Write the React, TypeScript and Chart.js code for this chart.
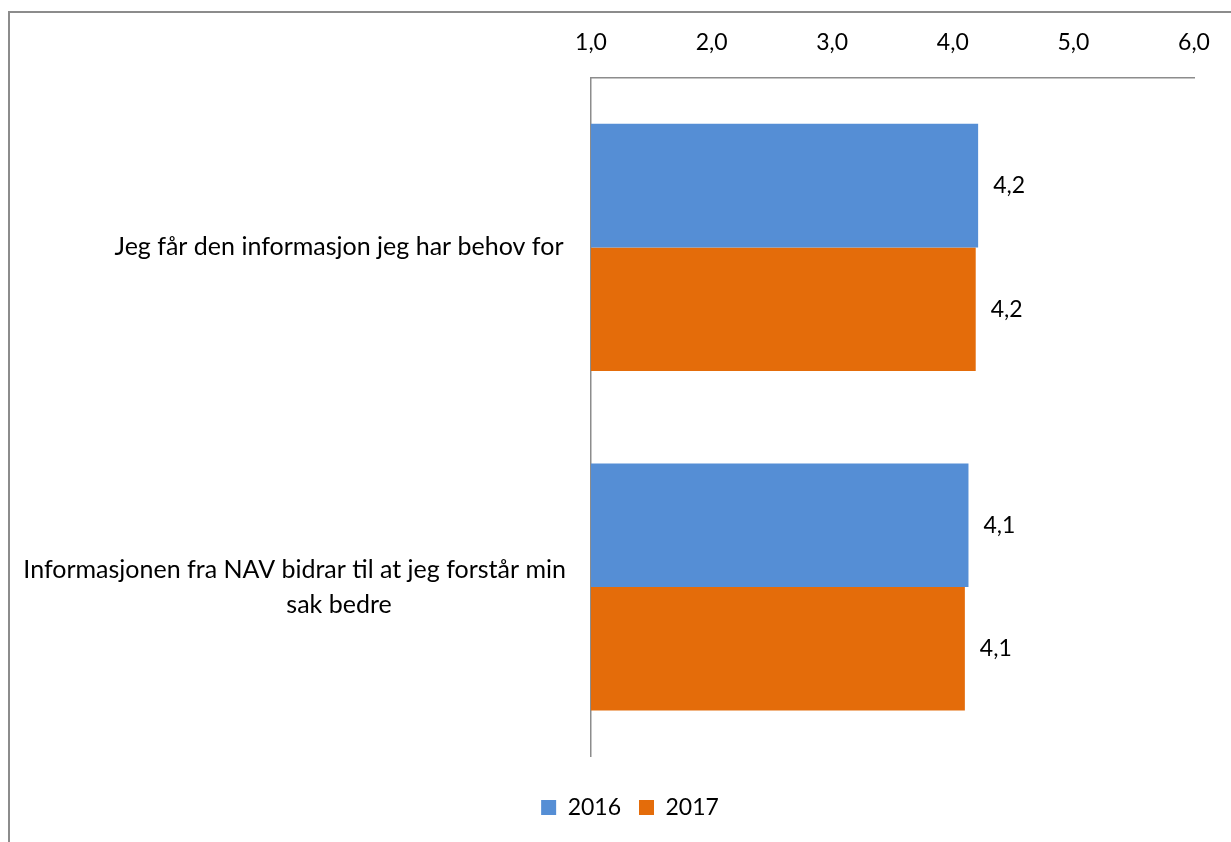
import React, { useEffect, useRef } from 'react';
import { Chart, registerables } from 'chart.js';

Chart.register(...registerables);

const categories: string[][] = [
  ['Jeg får den informasjon jeg har behov for'],
  ['Informasjonen fra NAV bidrar til at jeg forstår min', 'sak bedre'],
];
const seriesNames = ['2016', '2017'];
const values2016 = [4.21, 4.13];
const values2017 = [4.19, 4.1];
const xTickValues = [1, 2, 3, 4, 5, 6];
const colors = ['#558ED5', '#E46C0A'];

const FONT = 'Lato, "Open Sans", sans-serif';
const fmt = (v: number) => v.toFixed(1).replace('.', ',');

const valueLabels = {
  id: 'valueLabels',
  afterDatasetsDraw(chart: any) {
    const ctx = chart.ctx;
    ctx.save();
    ctx.font = `23px ${FONT}`;
    ctx.fillStyle = '#000';
    ctx.textAlign = 'left';
    ctx.textBaseline = 'middle';
    chart.data.datasets.forEach((ds: any, di: number) => {
      const meta = chart.getDatasetMeta(di);
      meta.data.forEach((el: any, i: number) => {
        ctx.fillText(fmt(ds.data[i]), el.x + 15, el.y);
      });
    });
    ctx.restore();
  },
};

// Category labels: centred in a text box left of the axis; lines too wide for it are right-aligned.
const categoryLabels = {
  id: 'categoryLabels',
  afterDraw(chart: any) {
    const ctx = chart.ctx;
    const yScale = chart.scales.y;
    const right = chart.chartArea.left - 25;
    const center = chart.chartArea.left - 252;
    const lineH = 35;
    ctx.save();
    ctx.font = `25px ${FONT}`;
    ctx.fillStyle = '#000';
    ctx.textAlign = 'center';
    ctx.textBaseline = 'middle';
    categories.forEach((lines, i) => {
      const yc = yScale.getPixelForValue(i);
      lines.forEach((line, li) => {
        const w = ctx.measureText(line).width;
        const x = Math.min(center, right - w / 2);
        const y = yc + (li - (lines.length - 1) / 2) * lineH;
        ctx.fillText(line, x, y);
      });
    });
    ctx.restore();
  },
};

export default function App() {
  const ref = useRef<HTMLCanvasElement>(null);
  useEffect(() => {
    if (!ref.current) return;
    const chart = new Chart(ref.current, {
      type: 'bar',
      data: {
        labels: categories.map((c) => c.join(' ')),
        datasets: [
          { label: seriesNames[0], data: values2016, backgroundColor: colors[0], categoryPercentage: 0.728, barPercentage: 1 },
          { label: seriesNames[1], data: values2017, backgroundColor: colors[1], categoryPercentage: 0.728, barPercentage: 1 },
        ],
      },
      options: {
        indexAxis: 'y',
        animation: false,
        responsive: true,
        maintainAspectRatio: false,
        layout: { padding: { left: 66, right: 37, top: 8, bottom: 13 } },
        scales: {
          x: {
            position: 'top',
            min: 1,
            max: 6,
            afterBuildTicks: (s: any) => {
              s.ticks = xTickValues.map((v) => ({ value: v }));
            },
            grid: { display: false, drawTicks: false },
            border: { display: true, color: '#8c8c8c', width: 1.5 },
            ticks: {
              padding: 21,
              color: '#000',
              font: { family: FONT, size: 23 },
              callback: (v: any) => fmt(Number(v)),
            },
          },
          y: {
            position: 'left',
            afterFit: (s: any) => {
              s.width = 525;
            },
            grid: { display: false, drawTicks: false },
            border: { display: true, color: '#8c8c8c', width: 1.5 },
            ticks: { display: false },
          },
        },
        plugins: {
          tooltip: { enabled: false },
          legend: {
            position: 'bottom',
            title: { display: true, text: '', padding: { top: 20, bottom: 0 }, font: { size: 1 } },
            labels: {
              boxWidth: 15,
              boxHeight: 15,
              padding: 18,
              color: '#000',
              font: { family: FONT, size: 23 },
            },
          },
        },
      },
      plugins: [valueLabels, categoryLabels],
    });
    return () => chart.destroy();
  }, []);

  return (
    <>
      <div
        style={{
          position: 'fixed',
          left: 8,
          top: 11,
          width: 1400,
          height: 1000,
          borderLeft: '2px solid #8c8c8c',
          borderTop: '2px solid #8c8c8c',
          pointerEvents: 'none',
        }}
      />
      <div style={{ position: 'fixed', left: 0, top: 0, width: 1231, height: 842 }}>
        <canvas ref={ref} />
      </div>
    </>
  );
}
